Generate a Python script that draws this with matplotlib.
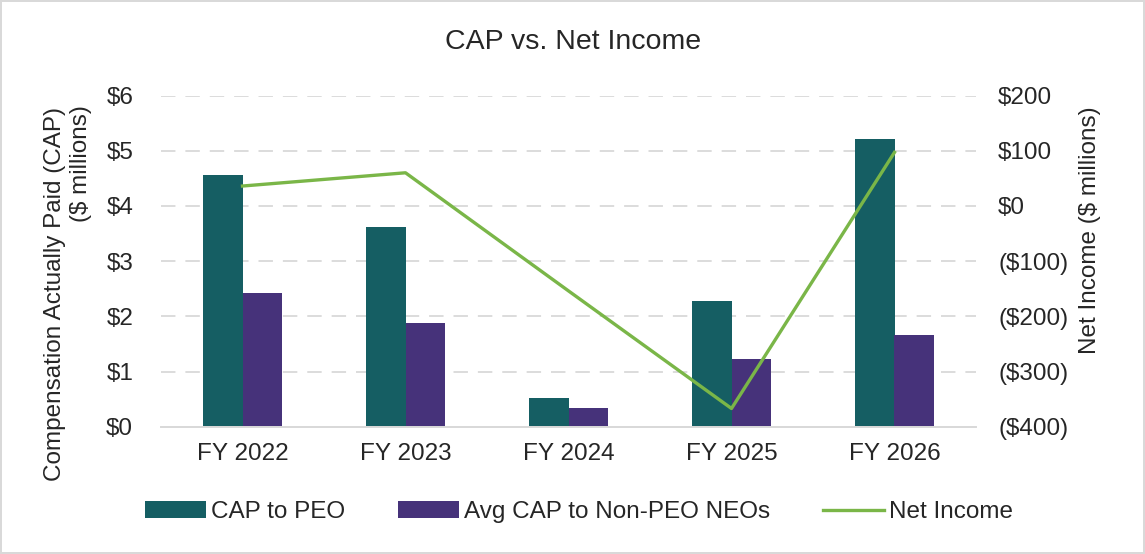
import matplotlib
matplotlib.use("Agg")
import matplotlib.pyplot as plt
import numpy as np
from matplotlib.ticker import FuncFormatter

categories = ["FY 2022", "FY 2023", "FY 2024", "FY 2025", "FY 2026"]
cap_peo = [4.56, 3.61, 0.52, 2.27, 5.21]
cap_non_peo = [2.43, 1.88, 0.34, 1.23, 1.66]
net_income = [36, 60, -154, -367, 97]

plt.rcParams['font.family'] = ['Liberation Sans', 'DejaVu Sans']

teal = "#155E63"
purple = "#46327A"
green = "#7AB648"
grid = "#D9D9D9"
txt = "#262626"
fs = 17.5

W, H = 1145, 554
fig = plt.figure(figsize=(W / 100, H / 100), dpi=100)
fig.patch.set_edgecolor(grid)
fig.patch.set_linewidth(1.5)
left, right, top, bottom = 161, 976, 95.5, 426.7
ax = fig.add_axes([left / W, 1 - bottom / H, (right - left) / W, (bottom - top) / H])
ax2 = ax.twinx()

x = np.arange(len(categories))
w = 0.245
b1 = ax.bar(x - w/2, cap_peo, w, color=teal, label="CAP to PEO", zorder=2)
b2 = ax.bar(x + w/2, cap_non_peo, w, color=purple, label="Avg CAP to Non-PEO NEOs", zorder=2)
l1, = ax2.plot(x, net_income, color=green, lw=2.4, label="Net Income", zorder=3)

ax.set_xlim(-0.5, len(categories) - 0.5)
ax.set_ylim(0, 6)
ax.set_yticks(range(0, 7))
ax.yaxis.set_major_formatter(FuncFormatter(lambda v, p: f"${int(v)}"))
ax2.set_ylim(-400, 200)
ax2.set_yticks(range(-400, 201, 100))
def fmt_r(v, p):
    v = int(round(v))
    if v < 0:
        return f"(${-v})"
    if v == 0:
        return "$0"
    return f"${v}"
ax2.yaxis.set_major_formatter(FuncFormatter(fmt_r))

ax.set_xticks(x)
ax.set_xticklabels(categories)
ax.yaxis.grid(True, color=grid, linestyle=(0, (8, 5.5)), linewidth=1.3, zorder=0)
ax.set_axisbelow(True)

for a in (ax, ax2):
    for s in ("top", "left", "right"):
        a.spines[s].set_visible(False)
    a.spines["bottom"].set_color(grid)
    a.spines["bottom"].set_linewidth(1.3)
    a.tick_params(length=0, labelsize=fs, colors=txt)
ax.tick_params(axis='y', pad=20)
ax.tick_params(axis='x', pad=12)
ax2.tick_params(axis='y', pad=16)

# left axis title (two lines, end-aligned at the top)
fig.text(55 / W, 1 - 107 / H, "Compensation Actually Paid (CAP)", rotation=90,
         ha="center", va="top", fontsize=fs, color=txt)
fig.text(81 / W, 1 - 105 / H, "($ millions)", rotation=90,
         ha="center", va="top", fontsize=fs, color=txt)
# right axis title
fig.text(1090 / W, 1 - 230 / H, "Net Income ($ millions)", rotation=90,
         ha="center", va="center", fontsize=fs, color=txt)

fig.text(573 / W, 1 - 42 / H, "CAP vs. Net Income", ha="center", va="center",
         fontsize=20.5, color=txt)

fig.legend([b1, b2, l1], ["CAP to PEO", "Avg CAP to Non-PEO NEOs", "Net Income"],
           loc="center", bbox_to_anchor=(579 / W, 1 - 512 / H), ncol=3, frameon=False,
           fontsize=fs, handlelength=2.5, handletextpad=0.2, columnspacing=2.2,
           labelcolor=txt)

fig.savefig("out.png", dpi=100)
